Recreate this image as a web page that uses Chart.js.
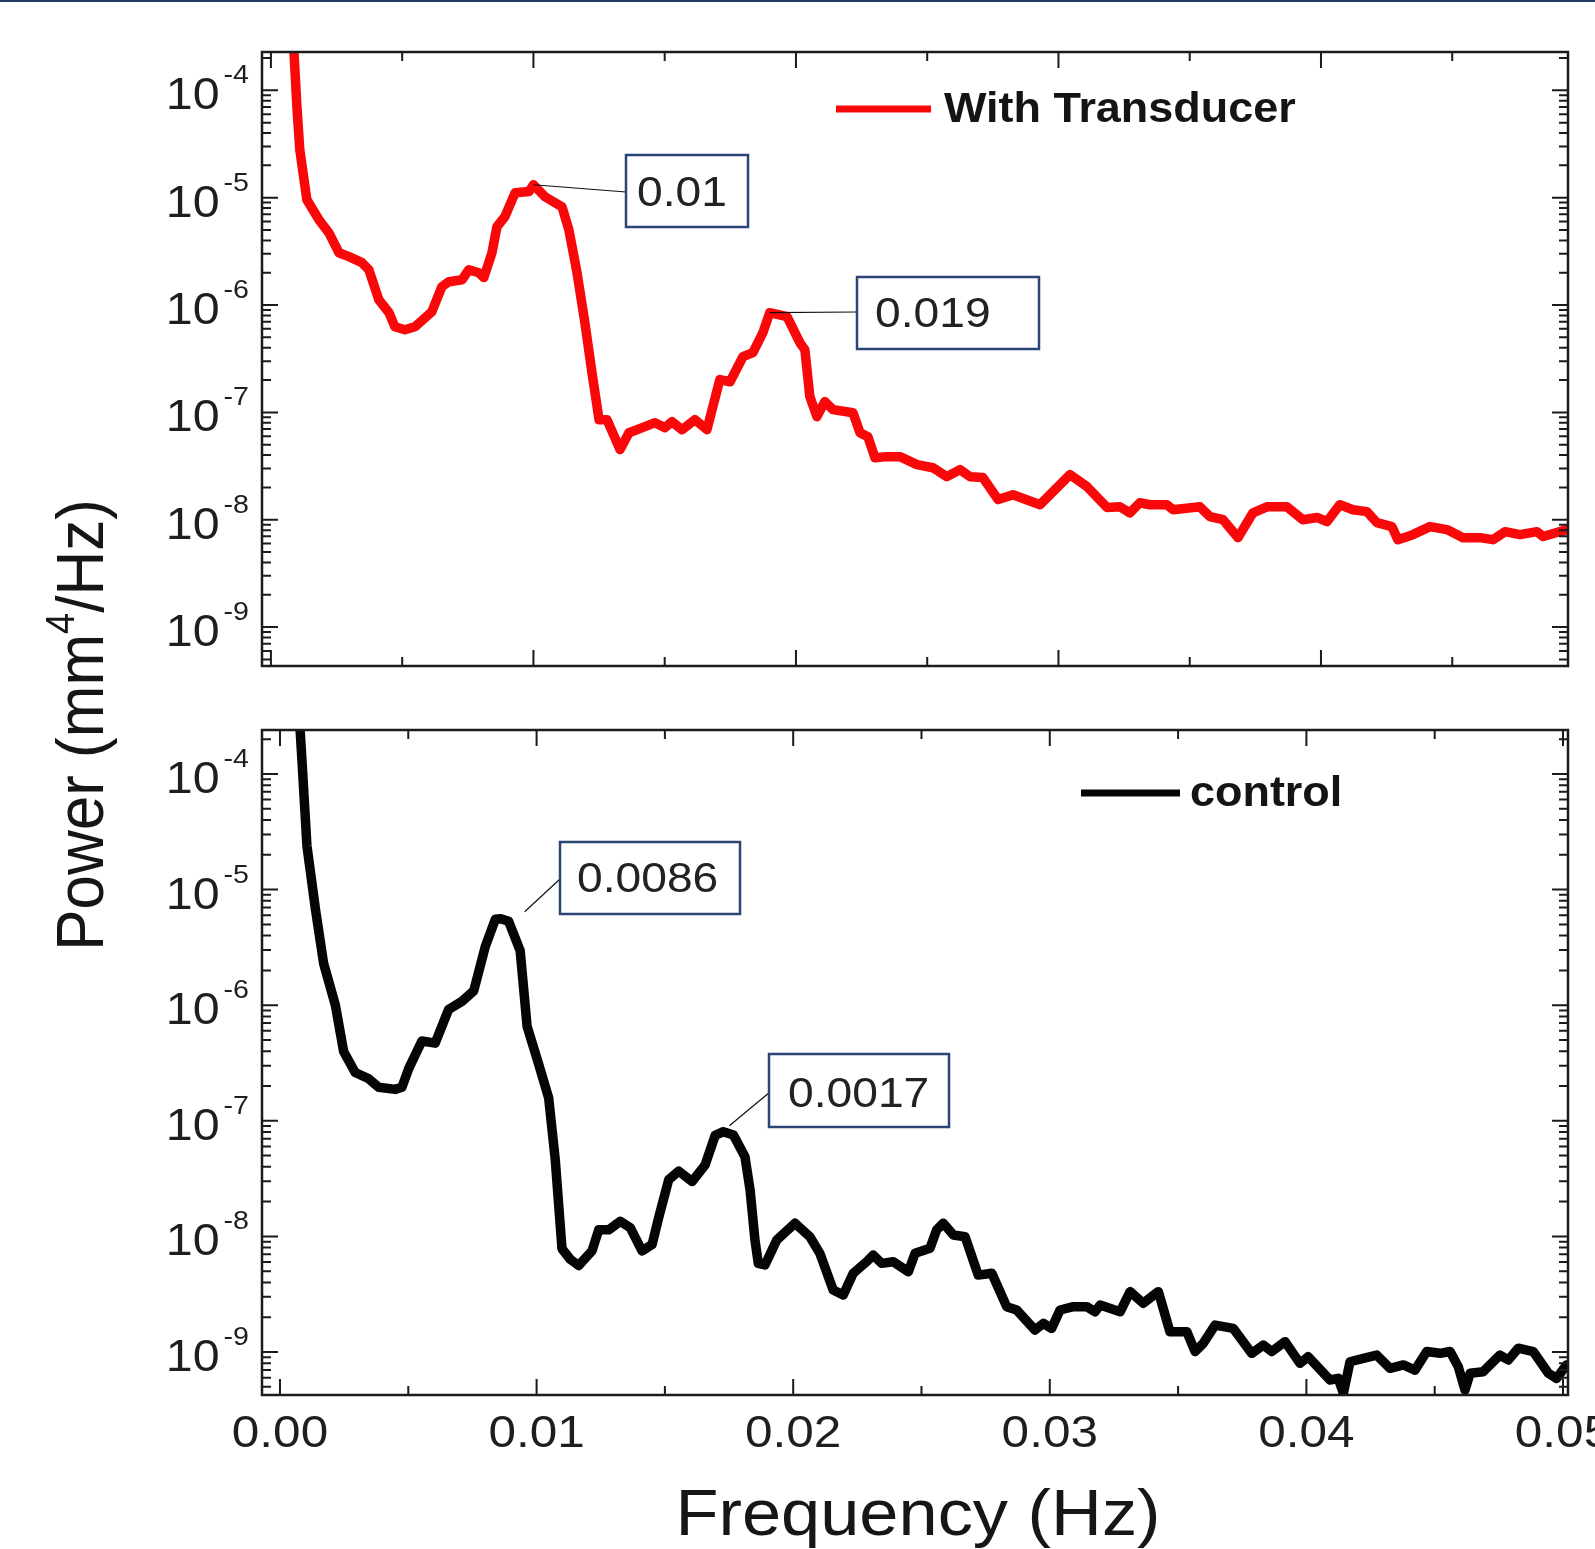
<!DOCTYPE html>
<html>
<head>
<meta charset="utf-8">
<title>Power spectra</title>
<script src="https://cdn.jsdelivr.net/npm/chart.js@4.4.1/dist/chart.umd.min.js"></script>
<style>
  html, body { margin: 0; padding: 0; background: #fff; }
  #wrap { position: relative; width: 1595px; height: 1549px; overflow: hidden; background: #fff; }
  #wrap canvas { position: absolute; left: 0; top: 0; }
  #topline { position: absolute; left: 0; top: 0; width: 1595px; height: 2px; background: #1f3a63; z-index: 5; }
</style>
</head>
<body>
<div id="wrap">
  <div id="topline"></div>
  <canvas id="topPanel" width="1595" height="1549"></canvas>
  <canvas id="bottomPanel" width="1595" height="1549"></canvas>
</div>
<script>
// ---- data ----
const transducerFreq = [
  0.00080, 0.00088, 0.00099, 0.00110, 0.00137, 0.00183, 0.00221, 0.00259, 0.00297, 0.00347,
  0.00373, 0.00411, 0.00450, 0.00472, 0.00510, 0.00549, 0.00613, 0.00651, 0.00678, 0.00728,
  0.00754, 0.00792, 0.00811, 0.00842, 0.00861, 0.00891, 0.00930, 0.00983, 0.01000, 0.01044,
  0.01109, 0.01135, 0.01166, 0.01196, 0.01223, 0.01250, 0.01280, 0.01330, 0.01364, 0.01425,
  0.01463, 0.01501, 0.01528, 0.01566, 0.01615, 0.01661, 0.01710, 0.01749, 0.01798, 0.01836,
  0.01874, 0.01900, 0.01966, 0.02015, 0.02034, 0.02053, 0.02080, 0.02110, 0.02141, 0.02217,
  0.02244, 0.02274, 0.02301, 0.02347, 0.02396, 0.02461, 0.02522, 0.02575, 0.02625, 0.02663,
  0.02712, 0.02770, 0.02827, 0.02930, 0.03044, 0.03109, 0.03185, 0.03234, 0.03272, 0.03310,
  0.03349, 0.03413, 0.03436, 0.03539, 0.03577, 0.03627, 0.03684, 0.03741, 0.03794, 0.03870,
  0.03931, 0.03985, 0.04023, 0.04072, 0.04122, 0.04175, 0.04213, 0.04270, 0.04293, 0.04350,
  0.04415, 0.04480, 0.04541, 0.04606, 0.04655, 0.04701, 0.04758, 0.04823, 0.04846, 0.04937
];
const transducerPower = [
  1.07e-3, 2.23e-4, 7.02e-5, 2.79e-5, 9.55e-6, 6.22e-6, 4.71e-6, 3.07e-6, 2.82e-6, 2.48e-6,
  2.13e-6, 1.12e-6, 8.48e-7, 6.28e-7, 5.89e-7, 6.28e-7, 8.67e-7, 1.48e-6, 1.65e-6, 1.72e-6,
  2.13e-6, 2.00e-6, 1.80e-6, 3.07e-6, 5.36e-6, 6.64e-6, 1.11e-5, 1.14e-5, 1.32e-5, 1.02e-5,
  8.22e-6, 5.02e-6, 2.00e-6, 6.84e-7, 2.34e-7, 8.55e-8, 8.55e-8, 4.50e-8, 6.47e-8, 7.36e-8,
  8.02e-8, 7.21e-8, 8.19e-8, 6.90e-8, 8.55e-8, 6.90e-8, 2.02e-7, 1.93e-7, 3.30e-7, 3.60e-7,
  5.52e-7, 8.48e-7, 7.78e-7, 4.46e-7, 3.84e-7, 1.40e-7, 9.12e-8, 1.26e-7, 1.06e-7, 9.93e-8,
  6.47e-8, 5.94e-8, 3.78e-8, 3.87e-8, 3.87e-8, 3.26e-8, 3.05e-8, 2.52e-8, 2.93e-8, 2.52e-8,
  2.47e-8, 1.54e-8, 1.71e-8, 1.38e-8, 2.63e-8, 2.03e-8, 1.30e-8, 1.32e-8, 1.16e-8, 1.44e-8,
  1.38e-8, 1.38e-8, 1.24e-8, 1.32e-8, 1.07e-8, 1.00e-8, 6.81e-9, 1.16e-8, 1.32e-8, 1.32e-8,
  1.00e-8, 1.05e-8, 9.60e-9, 1.38e-8, 1.24e-8, 1.19e-8, 9.40e-9, 8.63e-9, 6.52e-9, 7.26e-9,
  8.63e-9, 8.09e-9, 6.81e-9, 6.81e-9, 6.52e-9, 7.74e-9, 7.26e-9, 7.74e-9, 6.97e-9, 8.09e-9
];
const controlFreq = [
  0.00074, 0.00079, 0.00086, 0.00105, 0.00138, 0.00170, 0.00216, 0.00248, 0.00293, 0.00346,
  0.00385, 0.00449, 0.00475, 0.00502, 0.00553, 0.00605, 0.00657, 0.00709, 0.00755, 0.00800,
  0.00839, 0.00860, 0.00891, 0.00936, 0.00963, 0.01008, 0.01047, 0.01073, 0.01099, 0.01131,
  0.01164, 0.01216, 0.01242, 0.01281, 0.01326, 0.01365, 0.01411, 0.01450, 0.01476, 0.01515,
  0.01554, 0.01606, 0.01657, 0.01696, 0.01728, 0.01767, 0.01812, 0.01832, 0.01851, 0.01864,
  0.01890, 0.01936, 0.02007, 0.02065, 0.02104, 0.02156, 0.02195, 0.02234, 0.02286, 0.02312,
  0.02345, 0.02390, 0.02449, 0.02475, 0.02533, 0.02559, 0.02585, 0.02624, 0.02670, 0.02721,
  0.02774, 0.02832, 0.02871, 0.02942, 0.02975, 0.03007, 0.03040, 0.03092, 0.03144, 0.03176,
  0.03196, 0.03274, 0.03313, 0.03364, 0.03423, 0.03468, 0.03534, 0.03566, 0.03598, 0.03644,
  0.03715, 0.03787, 0.03832, 0.03865, 0.03917, 0.03975, 0.04007, 0.04092, 0.04124, 0.04144,
  0.04170, 0.04222, 0.04274, 0.04326, 0.04378, 0.04423, 0.04469, 0.04521, 0.04560, 0.04592,
  0.04618, 0.04638, 0.04689, 0.04754, 0.04787, 0.04826, 0.04884, 0.04943, 0.04975, 0.05014
];
const controlPower = [
  5.33e-4, 2.28e-4, 1.27e-4, 2.39e-5, 6.82e-6, 2.30e-6, 9.96e-7, 3.98e-7, 2.62e-7, 2.31e-7,
  1.95e-7, 1.87e-7, 1.95e-7, 2.84e-7, 4.90e-7, 4.70e-7, 9.18e-7, 1.08e-6, 1.33e-6, 3.21e-6,
  5.53e-6, 5.60e-6, 5.31e-6, 2.96e-6, 6.56e-7, 3.09e-7, 1.58e-7, 4.53e-8, 7.83e-9, 6.35e-9,
  5.60e-9, 7.50e-9, 1.14e-8, 1.14e-8, 1.35e-8, 1.19e-8, 7.50e-9, 8.51e-9, 1.46e-8, 3.10e-8,
  3.67e-8, 2.98e-8, 4.16e-8, 7.48e-8, 8.05e-8, 7.54e-8, 4.89e-8, 2.52e-8, 9.31e-9, 5.85e-9,
  5.66e-9, 9.31e-9, 1.30e-8, 9.93e-9, 7.14e-9, 3.44e-9, 3.11e-9, 4.80e-9, 6.04e-9, 6.90e-9,
  5.85e-9, 6.04e-9, 4.95e-9, 7.14e-9, 7.89e-9, 1.14e-8, 1.30e-8, 1.03e-8, 9.93e-9, 4.63e-9,
  4.80e-9, 2.47e-9, 2.31e-9, 1.55e-9, 1.77e-9, 1.60e-9, 2.31e-9, 2.47e-9, 2.47e-9, 2.23e-9,
  2.55e-9, 2.23e-9, 3.33e-9, 2.64e-9, 3.33e-9, 1.50e-9, 1.50e-9, 1.01e-9, 1.19e-9, 1.71e-9,
  1.60e-9, 9.75e-10, 1.15e-9, 1.01e-9, 1.23e-9, 7.98e-10, 9.10e-10, 5.73e-10, 5.92e-10, 4.40e-10,
  8.24e-10, 8.81e-10, 9.42e-10, 7.23e-10, 7.73e-10, 6.98e-10, 1.01e-9, 9.75e-10, 1.01e-9, 7.46e-10,
  4.69e-10, 6.55e-10, 6.76e-10, 9.42e-10, 8.53e-10, 1.08e-9, 1.01e-9, 6.55e-10, 5.92e-10, 7.73e-10
];

const freqTicks = [0, 0.01, 0.02, 0.03, 0.04, 0.05];
const freqTickLabels = ['0.00', '0.01', '0.02', '0.03', '0.04', '0.05'];
const freqMinorStep = 0.005;
const powerDecades = [-9, -8, -7, -6, -5, -4];

const transducerPeaks = [0.0100, 0.0190];
const transducerPeakLabels = ['0.01', '0.019'];
const controlPeaks = [0.0086, 0.01728];
const controlPeakLabels = ['0.0086', '0.0017'];

// ---- drawing helpers ----
const FONT = '"Liberation Sans", Arial, Helvetica, sans-serif';
const WIDE = 1.1; // lettering in this figure runs a little wide

function wideText(ctx, txt, x, y, font, align, sx) {
  ctx.save();
  ctx.font = font;
  ctx.textAlign = 'left';
  ctx.textBaseline = 'alphabetic';
  const w = ctx.measureText(txt).width * sx;
  const x0 = align === 'center' ? x - w / 2 : align === 'right' ? x - w : x;
  ctx.translate(x0, y);
  ctx.scale(sx, 1);
  ctx.fillText(txt, 0, 0);
  ctx.restore();
  return w;
}

const panelFrame = {
  id: 'panelFrame',
  afterDraw(chart, args, o) {
    const ctx = chart.ctx;
    const a = chart.chartArea;
    const xs = chart.scales.x, ys = chart.scales.y;
    ctx.save();
    ctx.strokeStyle = '#1b1b1b';
    ctx.fillStyle = '#1b1b1b';

    // box round the plot
    ctx.lineWidth = 2.5;
    ctx.strokeRect(a.left, a.top, a.right - a.left, a.bottom - a.top);

    // inward ticks on all four sides
    ctx.lineWidth = 2;
    ctx.beginPath();
    for (let v = 0; v <= 0.0501; v += freqMinorStep) {
      if (v < xs.min || v > xs.max) continue;
      const px = xs.getPixelForValue(v);
      const major = freqTicks.some(t => Math.abs(t - v) < 1e-6);
      const len = major ? 16 : 9;
      ctx.moveTo(px, a.bottom); ctx.lineTo(px, a.bottom - len);
      ctx.moveTo(px, a.top); ctx.lineTo(px, a.top + len);
    }
    for (let k = powerDecades[0] - 1; k <= powerDecades[powerDecades.length - 1] + 1; k++) {
      for (let m = 1; m <= 9; m++) {
        const v = m * Math.pow(10, k);
        if (v < ys.min || v > ys.max) continue;
        const py = ys.getPixelForValue(v);
        const len = m === 1 ? 16 : 9;
        ctx.moveTo(a.left, py); ctx.lineTo(a.left + len, py);
        ctx.moveTo(a.right, py); ctx.lineTo(a.right - len, py);
      }
    }
    ctx.stroke();

    // power labels, 10 with a raised exponent
    ctx.fillStyle = '#1e1e1e';
    powerDecades.forEach(k => {
      const py = ys.getPixelForValue(Math.pow(10, k));
      const sw = wideText(ctx, String(k), 249, py - 7, '26px ' + FONT, 'right', WIDE);
      wideText(ctx, '10', 249 - sw - 4, py + 19, '44px ' + FONT, 'right', WIDE);
    });

    // frequency labels
    if (o.freqLabels) {
      freqTicks.forEach((v, i) => {
        wideText(ctx, freqTickLabels[i], xs.getPixelForValue(v), 1447, '45px ' + FONT, 'center', WIDE);
      });
    }

    // legend sample
    const lg = o.legend;
    const ds = chart.data.datasets[0];
    ctx.strokeStyle = ds.borderColor;
    ctx.lineWidth = 7;
    ctx.beginPath();
    ctx.moveTo(lg.x1, lg.y); ctx.lineTo(lg.x2, lg.y);
    ctx.stroke();
    ctx.fillStyle = '#141414';
    wideText(ctx, ds.label, lg.textX, lg.textY, 'bold 42px ' + FONT, 'left', 1.07);

    // peak call-outs
    const meta = chart.getDatasetMeta(0);
    const pts = ds.data;
    o.callouts.forEach(c => {
      const idx = pts.findIndex(p => Math.abs(p.x - c.freq) < 1e-7);
      const el = meta.data[idx];
      ctx.strokeStyle = '#111';
      ctx.lineWidth = 1.2;
      ctx.beginPath();
      ctx.moveTo(el.x + c.off[0], el.y + c.off[1]);
      ctx.lineTo(c.to[0], c.to[1]);
      ctx.stroke();
      ctx.fillStyle = '#fff';
      ctx.fillRect(c.box[0], c.box[1], c.box[2], c.box[3]);
      ctx.strokeStyle = '#2b4576';
      ctx.lineWidth = 2.5;
      ctx.strokeRect(c.box[0], c.box[1], c.box[2], c.box[3]);
      ctx.fillStyle = '#222';
      wideText(ctx, c.text, c.textAt[0], c.textAt[1], '42px ' + FONT, 'left', WIDE);
    });

    // shared axis titles
    if (o.titles) {
      ctx.fillStyle = '#161616';
      wideText(ctx, 'Frequency (Hz)', 918, 1535, '64px ' + FONT, 'center', WIDE);

      ctx.save();
      ctx.translate(103, 725);
      ctx.rotate(-Math.PI / 2);
      ctx.scale(1, 1.08);
      ctx.textBaseline = 'alphabetic';
      ctx.textAlign = 'left';
      const big = '62px ' + FONT, small = '38px ' + FONT;
      ctx.font = big;
      const w1 = ctx.measureText('Power (mm').width;
      const w3 = ctx.measureText('/Hz)').width;
      ctx.font = small;
      const w2 = ctx.measureText('4').width;
      let x = -(w1 + w2 + w3) / 2;
      ctx.font = big; ctx.fillText('Power (mm', x, 0); x += w1;
      ctx.font = small; ctx.fillText('4', x, -27); x += w2;
      ctx.font = big; ctx.fillText('/Hz)', x, 0);
      ctx.restore();
    }
    ctx.restore();
  }
};

function makePanel(id, label, freq, power, color, p) {
  const points = freq.map((f, i) => ({ x: f, y: power[i] }));
  return new Chart(document.getElementById(id), {
    type: 'line',
    data: {
      datasets: [{
        label: label,
        data: points,
        borderColor: color,
        borderWidth: 9.5,
        borderJoinStyle: 'round',
        borderCapStyle: 'round',
        pointRadius: 0,
        tension: 0,
        fill: false,
        clip: 0
      }]
    },
    options: {
      responsive: false,
      animation: false,
      devicePixelRatio: 1,
      events: [],
      layout: { padding: p.padding },
      scales: {
        x: { type: 'linear', display: false, bounds: 'data', min: p.xMin, max: p.xMax },
        y: { type: 'logarithmic', display: false, bounds: 'data', min: p.yMin, max: p.yMax }
      },
      plugins: {
        legend: { display: false },
        tooltip: { enabled: false },
        panelFrame: p.frame
      }
    },
    plugins: [panelFrame]
  });
}

makePanel('topPanel', 'With Transducer', transducerFreq, transducerPower, '#f80808', {
  padding: { left: 262, top: 52, right: 27, bottom: 883 },
  xMin: -0.00034, xMax: 0.04941,
  yMin: 4.34e-10, yMax: 2.275e-4,
  frame: {
    freqLabels: false,
    titles: false,
    legend: { x1: 836, x2: 931, y: 109, textX: 944, textY: 122 },
    callouts: [
      { freq: transducerPeaks[0], text: transducerPeakLabels[0], off: [0, 0], to: [626, 192],
        box: [626, 155, 122, 72], textAt: [637, 206] },
      { freq: transducerPeaks[1], text: transducerPeakLabels[1], off: [0, 0], to: [857, 312],
        box: [857, 277, 182, 72], textAt: [875, 327] }
    ]
  }
});

makePanel('bottomPanel', 'control', controlFreq, controlPower, '#050505', {
  padding: { left: 262, top: 730, right: 27, bottom: 154 },
  xMin: -0.000701, xMax: 0.050195,
  yMin: 4.25e-10, yMax: 2.40e-4,
  frame: {
    freqLabels: true,
    titles: true,
    legend: { x1: 1081, x2: 1180, y: 793, textX: 1190, textY: 806 },
    callouts: [
      { freq: controlPeaks[0], text: controlPeakLabels[0], off: [24, -7], to: [560, 879],
        box: [560, 842, 180, 72], textAt: [577, 892] },
      { freq: controlPeaks[1], text: controlPeakLabels[1], off: [6, -6], to: [770, 1092],
        box: [769, 1054, 180, 73], textAt: [788, 1107] }
    ]
  }
});
</script>
</body>
</html>
